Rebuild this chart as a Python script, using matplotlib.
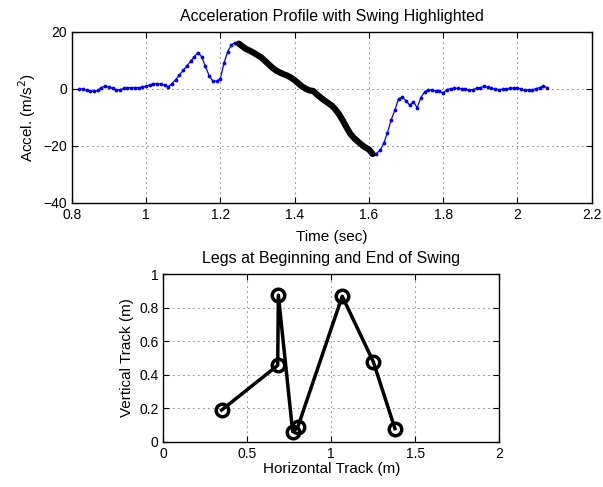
import numpy as np
import matplotlib
matplotlib.use("Agg")
import matplotlib.pyplot as plt

plt.rcParams['font.family'] = ['Liberation Sans', 'DejaVu Sans']

# Acceleration samples (10 ms spacing)
t_start = 0.82
accel = [
    0.0, -0.2, -0.6, -0.9, -0.9, -0.6, 0.4, 0.9, 0.6, 0.1,
    -0.5, -0.3, 0.1, 0.3, 0.4, 0.4, 0.4, 0.5, 0.8, 1.3,
    1.8, 1.8, 1.6, 1.2, 0.7, 1.8, 3.2, 4.8, 6.4, 8.0,
    9.6, 11.2, 12.7, 11.2, 7.8, 4.6, 2.7, 2.7, 3.4, 9.0,
    13.0, 15.4, 16.2, 15.8, 14.8, 13.9, 13.3, 12.6, 11.8, 11.0,
    9.8, 8.6, 7.4, 6.4, 5.7, 5.1, 4.6, 3.9, 3.0, 1.9,
    0.8, 0.0, -0.6, -0.8, -2.0, -3.1, -4.1, -5.0, -5.9, -7.3,
    -9.0, -11.2, -13.6, -15.8, -17.3, -18.5, -19.6, -20.6, -21.3, -22.9,
    -22.8, -21.6, -19.2, -15.5, -11.0, -7.5, -3.5, -3.0, -4.2, -5.8,
    -4.6, -6.7, -3.1, -1.1, -0.3, -0.4, -0.7, -0.9, -1.5, -0.3,
    0.0, 0.1, 0.1, 0.0, -0.2, -0.5, -0.3, 0.1, 0.4, 0.8,
    0.5, 0.1, -0.1, -0.3, -0.2, 0.0, 0.1, 0.3, 0.4, -0.2,
    -0.6, -0.5, -0.4, 0.0, 0.4, 0.9, 0.4,
]
time = t_start + 0.01 * np.arange(len(accel))
accel = np.array(accel)

# Swing window (seconds)
swing_start = 1.25
swing_end = 1.61

# Leg joint positions at beginning and end of swing
horiz = [0.347, 0.681, 0.685, 0.770, 0.800, 1.065, 1.250, 1.379]
vert = [0.189, 0.456, 0.875, 0.060, 0.086, 0.869, 0.478, 0.078]

fig = plt.figure(figsize=(6.03, 4.87), dpi=100)

def style(ax):
    ax.grid(True, linestyle=(0, (1, 5)), color='black', linewidth=0.6)
    ax.tick_params(direction='in', length=4, labelsize=10, top=True, right=True,
                   labeltop=False, labelright=False)
    for s in ax.spines.values():
        s.set_linewidth(1.0)

ax1 = fig.add_axes([0.1189, 0.5838, 0.8624, 0.3511])
ax1.plot(time, accel, '-', color='#0000ff', linewidth=0.9, marker='.', markersize=3.5)
mask = (time >= swing_start - 1e-9) & (time <= swing_end + 1e-9)
ax1.plot(time[mask], accel[mask], '-', color='black', linewidth=4.5, solid_capstyle='round')
ax1.set_xlim(0.8, 2.2)
ax1.set_ylim(-40, 20)
ax1.set_xticks([0.8, 1.0, 1.2, 1.4, 1.6, 1.8, 2.0, 2.2])
ax1.set_xticklabels(['0.8', '1', '1.2', '1.4', '1.6', '1.8', '2', '2.2'])
ax1.set_yticks([-40, -20, 0, 20])
ax1.set_title('Acceleration Profile with Swing Highlighted', fontsize=11.5, pad=8)
ax1.set_xlabel('Time (sec)', fontsize=11, labelpad=6)
ax1.set_ylabel('Accel. (m/s$^2$)', fontsize=11)
style(ax1)

ax2 = fig.add_axes([0.2708, 0.0930, 0.5572, 0.3437])
ax2.plot(horiz, vert, '-', color='black', linewidth=2.5, marker='o', markersize=9,
         markerfacecolor='none', markeredgewidth=2.5, markeredgecolor='black')
ax2.set_xlim(0, 2)
ax2.set_ylim(0, 1)
ax2.set_xticks([0, 0.5, 1, 1.5, 2])
ax2.set_xticklabels(['0', '0.5', '1', '1.5', '2'])
ax2.set_yticks([0, 0.2, 0.4, 0.6, 0.8, 1])
ax2.set_yticklabels(['0', '0.2', '0.4', '0.6', '0.8', '1'])
ax2.set_title('Legs at Beginning and End of Swing', fontsize=11.5, pad=8)
ax2.set_xlabel('Horizontal Track (m)', fontsize=11, labelpad=1)
ax2.set_ylabel('Vertical Track (m)', fontsize=11)
style(ax2)

fig.savefig('out.png', dpi=100)
